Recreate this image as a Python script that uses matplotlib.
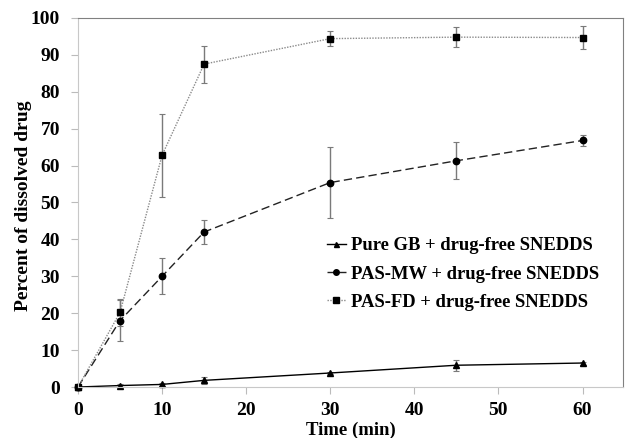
import matplotlib.pyplot as plt
from matplotlib.lines import Line2D

plt.rcParams["font.family"] = ["Liberation Serif", "DejaVu Serif"]
plt.rcParams["font.weight"] = "bold"

# temps de prélèvement (min)
time_min = [0, 5, 10, 15, 30, 45, 60]

# pourcentage dissous (moyenne) et écart-type
pure_gb = [0, 0.4, 0.7, 1.8, 3.8, 5.9, 6.5]
pure_gb_err = [0, 0.3, 0.3, 0.9, 0.4, 1.5, 0.4]

pas_mw = [0, 18.0, 30.0, 42.0, 55.4, 61.3, 66.8]
pas_mw_err = [0, 5.6, 4.9, 3.3, 9.5, 5.0, 1.5]

pas_fd = [0, 20.2, 62.8, 87.5, 94.4, 94.8, 94.7]
pas_fd_err = [0, 3.6, 11.2, 5.0, 2.0, 2.7, 3.2]

labels = [
    "Pure GB + drug-free SNEDDS",
    "PAS-MW + drug-free SNEDDS",
    "PAS-FD + drug-free SNEDDS",
]

fig = plt.figure(figsize=(6.27, 4.38), dpi=100)
ax = fig.add_axes([0.1244, 0.1164, 0.869, 0.8426])

err_kw = dict(ecolor="#7a7a7a", elinewidth=1.0, capsize=2, capthick=0.8)

# style de chaque série : (ligne, couleur, marqueur, taille)
styles = [
    ("-", "black", "^", 4.2),
    ((0, (6, 3)), "#222222", "o", 4.6),
    ((0, (1, 1)), "#8a8a8a", "s", 4.8),
]
series = [(pure_gb, pure_gb_err), (pas_mw, pas_mw_err), (pas_fd, pas_fd_err)]

handles = []
for (vals, errs), (ls, col, mk, ms), lab in zip(series, styles, labels):
    line, caps, bars = ax.errorbar(time_min, vals, yerr=errs, color=col, linestyle=ls,
                                   linewidth=1.0, marker=mk, markersize=ms,
                                   markerfacecolor="black", markeredgecolor="black",
                                   **err_kw)
    # le point à l'origine reste entier
    line.set_clip_on(False)
    handles.append(Line2D([], [], color=col, linestyle=ls, linewidth=1.0, marker=mk,
                          markersize=ms - 0.6, markerfacecolor="black",
                          markeredgecolor="black", label=lab))

ax.set_xlim(0, 64.8)
ax.set_ylim(0, 100)
ax.set_xticks(range(0, 61, 10))
ax.set_yticks(range(0, 101, 10))

ax.tick_params(axis="x", length=5, color="#bbbbbb", labelsize=14, pad=6)
ax.tick_params(axis="y", length=5, color="#bbbbbb", labelsize=14, pad=8)

for side in ("left", "bottom"):
    ax.spines[side].set_color("#c8c8c8")
for side in ("top", "right"):
    ax.spines[side].set_color("#808080")

ax.set_xlabel("Time (min)", fontsize=13.5, fontweight="bold")
ax.xaxis.set_label_coords(0.5, -0.093)
ax.set_ylabel("Percent of dissolved drug", fontsize=14, fontweight="bold")
ax.yaxis.set_label_coords(-0.085, 0.49)

ax.legend(handles=handles, loc="center left", bbox_to_anchor=(0.457, 0.306),
          frameon=False, fontsize=13.4, handlelength=1.0, handletextpad=0.3,
          labelspacing=0.6, borderaxespad=0, borderpad=0)

fig.savefig("out.png", dpi=100)
